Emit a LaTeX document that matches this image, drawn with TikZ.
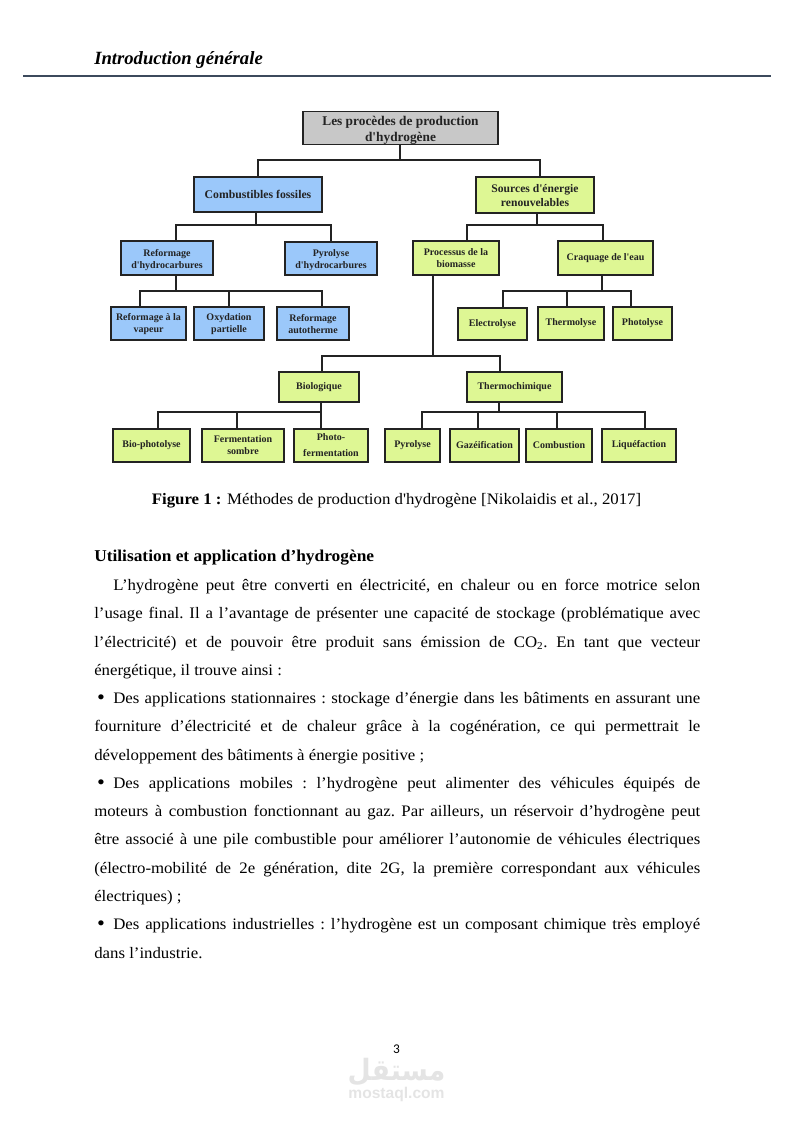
\documentclass[tikz,border=0pt]{standalone}
\usepackage{fontspec}
\setmainfont[Ligatures=TeXOff]{Liberation Serif}
\newfontfamily\bodyfont[Ligatures=TeXOff,FakeStretch=1.05]{Liberation Serif}
\newfontfamily\pagefont{Carlito}
\newfontfamily\markfont{Liberation Sans}
\newfontfamily\arabicfont[Script=Arabic]{DejaVu Sans}
\TeXXeTstate=1
\definecolor{BoxBlue}  {RGB}{155,200,250}
\definecolor{BoxGreen} {RGB}{222,247,148}
\definecolor{BoxGray}  {RGB}{200,200,200}
\definecolor{LineDark} {RGB}{35,35,35}
\definecolor{RuleSlate}{RGB}{60,74,92}
\definecolor{MarkGray} {RGB}{228,228,228}
\def\u{0.75pt}
\def\lift#1{\rule{0pt}{#1pt}}
\def\blt{\makebox[14.25pt][l]{\hspace{2.6pt}{\bfseries\fontsize{14}{14}\selectfont •}}}
\tikzset{
  wh/.style 2 args={minimum width=#1*\u,minimum height=#2*\u},
  box/.style={draw=LineDark,line width=1.3pt,inner sep=0pt,outer sep=0pt,align=center,
              text=LineDark,font=\bfseries\fontsize{7.5}{9}\selectfont},
  bluebox/.style={box,fill=BoxBlue},
  greenbox/.style={box,fill=BoxGreen},
  link/.style={draw=LineDark,line width=1.3pt,line join=miter},
}
\begin{document}
\begin{tikzpicture}[x=0.75pt,y=-0.75pt]
  \useasboundingbox (0,0) rectangle (794,1123);
  %% Page head
  \node[anchor=base west,inner sep=0pt,font=\bfseries\itshape\fontsize{14}{16}\selectfont] (head) at (94,65) {Introduction générale};
  \coordinate (ruleL) at (23,75.7);
  \coordinate (ruleR) at (771,75.7);
  \draw[RuleSlate,line width=1.5pt] (ruleL)--(ruleR);
  %% Level 0 and 1
  \node[box,fill=BoxGray,wh={195}{32},font=\bfseries\fontsize{10}{12}\selectfont] (title) at (400.5,128) {\lift{10.5}Les procèdes de production\\d'hydrogène};
  \node[bluebox,wh={128}{35},font=\bfseries\fontsize{8.8}{11}\selectfont] (fossil) at (258,194.5) {Combustibles fossiles};
  \node[greenbox,wh={118}{36},font=\bfseries\fontsize{8.7}{10.4}\selectfont] (renew) at (535,195) {\lift{7.5}Sources d'énergie\\renouvelables};
  %% Level 2
  \node[bluebox,wh={92}{34}] (reform) at (167,258) {\lift{8.3}Reformage\\d'hydrocarbures};
  \node[bluebox,wh={92}{33}] (pyrohc) at (331,258.5) {\lift{8.3}Pyrolyse\\d'hydrocarbures};
  \node[greenbox,wh={86}{34}] (biomass) at (456,258) {Processus de la\\biomasse};
  \node[greenbox,wh={95}{34}] (crack) at (605.5,258) {Craquage de l'eau};
  %% Level 3
  \node[bluebox,wh={75}{33}] (steam) at (148.5,323.5) {\lift{6.8}Reformage à la\\vapeur};
  \node[bluebox,wh={70}{33}] (oxid) at (229,323.5) {\lift{6.8}Oxydation\\partielle};
  \node[bluebox,wh={72}{33}] (auto) at (313,323.5) {\lift{6.8}Reformage\\autotherme};
  \node[greenbox,wh={69}{32}] (electro) at (492.5,324) {Electrolyse};
  \node[greenbox,wh={66}{33}] (thermo) at (571,323.5) {Thermolyse};
  \node[greenbox,wh={59}{33}] (photo) at (642.5,323.5) {Photolyse};
  %% Biomass routes
  \node[greenbox,wh={80}{30}] (bio) at (319,387) {Biologique};
  \node[greenbox,wh={95}{30}] (chem) at (514.5,387) {Thermochimique};
  \node[greenbox,wh={77}{33}] (biophot) at (151.5,445.5) {Bio-photolyse};
  \node[greenbox,wh={82}{33}] (dark) at (243,445.5) {Fermentation\\sombre};
  \node[greenbox,wh={74}{33},font=\bfseries\fontsize{7.5}{12}\selectfont] (photoferm) at (331,445.5) {Photo-\\fermentation};
  \node[greenbox,wh={55}{33}] (pyro) at (412.5,445.5) {Pyrolyse};
  \node[greenbox,wh={69}{33}] (gasif) at (484.5,445.5) {Gazéification};
  \node[greenbox,wh={66}{33}] (combu) at (559,445.5) {Combustion};
  \node[greenbox,wh={74}{33}] (lique) at (639,445.5) {Liquéfaction};
  %% Connectors
  \foreach \n/\x in {fossil/258,renew/540}
    \draw[link] (title.south -| 400,0) |- (\x,160) -- (\n.north -| \x,0);
  \foreach \n/\x in {reform/176,pyrohc/331}
    \draw[link] (fossil.south -| 256,0) |- (\x,225) -- (\n.north -| \x,0);
  \foreach \n/\x in {biomass/467,crack/603}
    \draw[link] (renew.south -| 537,0) |- (\x,225) -- (\n.north -| \x,0);
  \foreach \n/\x in {steam/140,oxid/229,auto/322}
    \draw[link] (reform.south -| 176,0) |- (\x,291) -- (\n.north -| \x,0);
  \foreach \n/\x in {electro/503,thermo/567,photo/631}
    \draw[link] (crack.south -| 602,0) |- (\x,291) -- (\n.north -| \x,0);
  \foreach \n/\x in {bio/322,chem/500}
    \draw[link] (biomass.south -| 433,0) |- (\x,356) -- (\n.north -| \x,0);
  \foreach \n/\x in {biophot/158,dark/237,photoferm/321}
    \draw[link] (bio.south -| 321,0) |- (\x,412) -- (\n.north -| \x,0);
  \foreach \n/\x in {pyro/422,gasif/478,combu/557,lique/645}
    \draw[link] (chem.south -| 499,0) |- (\x,412) -- (\n.north -| \x,0);
  %% Caption and body
  \node[anchor=base,inner sep=0pt,font=\bodyfont\fontsize{12}{14}\selectfont] (caption) at (396.5,504) {\textbf{Figure 1 :} Méthodes de production d'hydrogène [Nikolaidis et al., 2017]};
  \node[anchor=base west,inner sep=0pt,font=\bodyfont\bfseries\fontsize{12.4}{14}\selectfont] (subhead) at (94,561) {Utilisation et application d’hydrogène};
  \node[anchor=north west,inner sep=0pt,text width=606*\u,align=justify,font=\bodyfont\fontsize{12}{21.2}\selectfont] (body) at (94,579) {\tolerance=10000\hbadness=10000\parindent=0pt\frenchspacing
    \hspace*{14.25pt}L’hydrogène peut être converti en électricité, en chaleur ou en force motrice selon\linebreak
    l’usage final. Il a l’avantage de présenter une capacité de stockage (problématique avec\linebreak
    l’électricité) et de pouvoir être produit sans émission de CO\textsubscript{2}. En tant que vecteur\linebreak
    énergétique, il trouve ainsi :\par
    \blt Des applications stationnaires : stockage d’énergie dans les bâtiments en assurant une\linebreak
    fourniture d’électricité et de chaleur grâce à la cogénération, ce qui permettrait le\linebreak
    développement des bâtiments à énergie positive ;\par
    \blt Des applications mobiles : l’hydrogène peut alimenter des véhicules équipés de\linebreak
    moteurs à combustion fonctionnant au gaz. Par ailleurs, un réservoir d’hydrogène peut\linebreak
    être associé à une pile combustible pour améliorer l’autonomie de véhicules électriques\linebreak
    (électro-mobilité de 2e génération, dite 2G, la première correspondant aux véhicules\linebreak
    électriques) ;\par
    \blt Des applications industrielles : l’hydrogène est un composant chimique très employé\linebreak
    dans l’industrie.\par};
  %% Page number and watermark
  \node[inner sep=0pt,font=\pagefont\fontsize{10}{12}\selectfont] (pagenum) at (396.5,1049) {3};
  \node[inner sep=0pt,text=MarkGray,font=\arabicfont\bfseries\fontsize{22}{24}\selectfont] (markar) at (396.5,1072.5) {\scalebox{0.91}[1]{\beginR مستقل\endR}};
  \node[inner sep=0pt,text=MarkGray,font=\markfont\bfseries\fontsize{11.7}{13}\selectfont] (markla) at (396.5,1094.5) {mostaql.com};
\end{tikzpicture}
\end{document}
